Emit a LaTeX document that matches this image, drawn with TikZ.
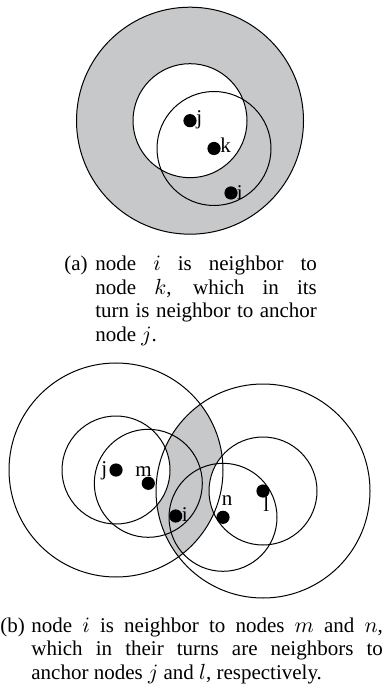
\documentclass[tikz,border=0pt]{standalone}
\usepackage{fontspec}
\setmainfont{Liberation Serif}
\usetikzlibrary{positioning}
\definecolor{zonegray}{RGB}{199,200,202}

\begin{document}
\begin{tikzpicture}[x=0.5pt,y=-0.5pt,
    ring/.style={draw=black,line width=0.5pt},
    dot/.style={circle,fill=black,minimum size=6.6pt,inner sep=0pt},
    lbl/.style={font=\fontsize{10.5}{11.75}\selectfont,inner sep=0pt,anchor=base west},
    captext/.style={font=\fontsize{10.5}{11.75}\selectfont,inner sep=0pt,align=justify,anchor=base west}]
  \useasboundingbox (0,0) rectangle (385,688);
  % (a) one anchor, two hops
  \coordinate (ja) at (190,120.7);
  \coordinate (ka) at (214,148.5);
  \coordinate (ia) at (231,193);
  \fill[zonegray] (ja) circle (113.5);
  \fill[white] (ja) circle (57);
  \draw[ring] (ja) circle (113.5);
  \draw[ring] (ja) circle (57);
  \draw[ring] (ka) circle (57);
  \node[dot] (jadot) at (ja) {};
  \node[dot] (kadot) at (ka) {};
  \node[dot] (iadot) at (ia) {};
  \node[lbl] (jalbl) at (196,125) {j};
  \node[lbl] (kalbl) at (220,152.7) {k};
  \node[lbl] (ialbl) at (236.5,199.3) {i};
  \node[lbl] (acap) at (64,270.7) {(a)};
  \node[captext,text width=110.75pt] (atext) at (95,270.7)
    {node $i$ is neighbor to\linebreak node $k$, which in its\linebreak turn is neighbor to anchor\linebreak node $j$.};
  % (b) two anchors
  \coordinate (jb) at (116,470);
  \coordinate (mb) at (148.3,483.3);
  \coordinate (ib) at (175.7,516);
  \coordinate (nb) at (223,517.3);
  \coordinate (lb) at (263,491);
  \begin{scope}
    \clip (jb) circle (107);
    \clip (lb) circle (107);
    \fill[zonegray] (jb) circle (107);
    \fill[white] (jb) circle (54) (lb) circle (54);
  \end{scope}
  \draw[ring] (jb) circle (107);
  \draw[ring] (lb) circle (107);
  \draw[ring] (jb) circle (54);
  \draw[ring] (mb) circle (54);
  \draw[ring] (nb) circle (54);
  \draw[ring] (lb) circle (54);
  \node[dot] (jbdot) at (jb) {};
  \node[dot] (mbdot) at (mb) {};
  \node[dot] (ibdot) at (ib) {};
  \node[dot] (nbdot) at (nb) {};
  \node[dot] (lbdot) at (lb) {};
  \node[lbl] (jblbl) at (101,475) {j};
  \node[lbl] (mblbl) at (135,476) {m};
  \node[lbl] (iblbl) at (181.5,521) {i};
  \node[lbl] (nblbl) at (221.5,505) {n};
  \node[lbl] (lblbl) at (263,511.7) {l};
  \node[lbl] (bcap) at (0,632.3) {(b)};
  \node[captext,text width=175.75pt] (btext) at (31,632.3)
    {node $i$ is neighbor to nodes $m$ and $n$,\linebreak which in their turns are neighbors to\linebreak anchor nodes $j$ and $l$, respectively.};
\end{tikzpicture}
\end{document}
